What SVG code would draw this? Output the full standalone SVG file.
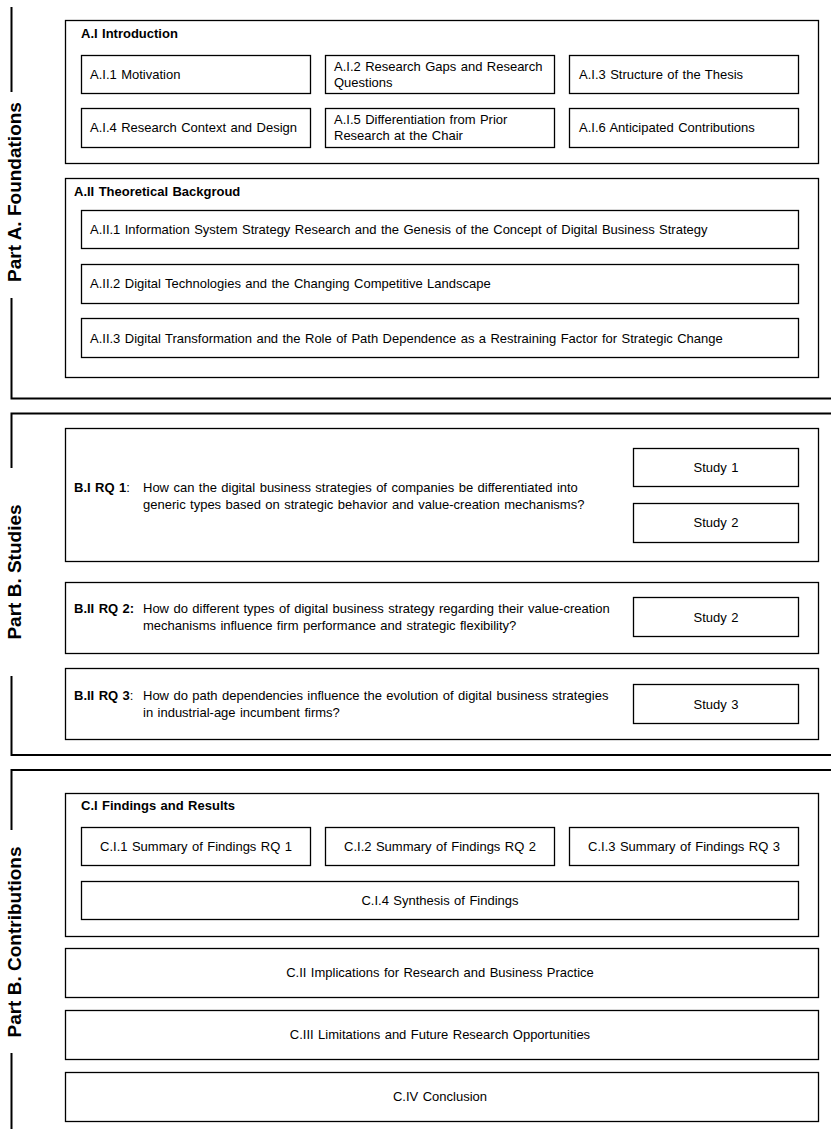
<svg xmlns="http://www.w3.org/2000/svg" width="831" height="1129" viewBox="0 0 831 1129">
<style>
  .bg{fill:#fff}
  .box{fill:#fff;stroke:#000;stroke-width:1.3}
  .brk{fill:none;stroke:#000;stroke-width:2}
  text{font-family:"Liberation Sans",Arial,sans-serif;font-size:13px;fill:#000;word-spacing:0.8px}
  .b{font-weight:bold}
  .c{text-anchor:middle}
  .part{font-size:19px;font-weight:bold;text-anchor:middle;word-spacing:0}
</style>
<rect class="bg" x="0" y="0" width="831" height="1129"/>
<g id="brackets">
  <path class="brk" d="M11.5,7 V92 M11.5,298 V398.5 H831"/>
  <path class="brk" d="M831,413.5 H11.5 V468 M11.5,676 V755 H831"/>
  <path class="brk" d="M831,770 H11.5 V830 M11.5,1053 V1129"/>
</g>
<g id="partA"><text class="part" transform="translate(21,192) rotate(-90)">Part A. Foundations</text></g>
<g id="partB"><text class="part" transform="translate(21,572) rotate(-90)">Part B. Studies</text></g>
<g id="partC"><text class="part" transform="translate(21,942) rotate(-90)">Part B. Contributions</text></g>

<g id="AI">
  <rect class="box" x="65.5" y="20.5" width="753" height="143"/>
  <text class="b" x="81" y="38">A.I Introduction</text>
</g>
<g id="AI1"><rect class="box" x="81.5" y="55.5" width="229" height="38"/><text x="90" y="79">A.I.1 Motivation</text></g>
<g id="AI2"><rect class="box" x="325.5" y="55.5" width="229" height="38"/><text x="334" y="71">A.I.2 Research Gaps and Research</text><text x="334" y="87">Questions</text></g>
<g id="AI3"><rect class="box" x="569.5" y="55.5" width="229" height="38"/><text x="579" y="79">A.I.3 Structure of the Thesis</text></g>
<g id="AI4"><rect class="box" x="81.5" y="108.5" width="229" height="39"/><text x="90" y="132">A.I.4 Research Context and Design</text></g>
<g id="AI5"><rect class="box" x="325.5" y="108.5" width="229" height="39"/><text x="334" y="124">A.I.5 Differentiation from Prior</text><text x="334" y="140">Research at the Chair</text></g>
<g id="AI6"><rect class="box" x="569.5" y="108.5" width="229" height="39"/><text x="579" y="132">A.I.6 Anticipated Contributions</text></g>

<g id="AII">
  <rect class="box" x="65.5" y="178.5" width="753" height="199"/>
  <text class="b" x="74" y="196">A.II Theoretical Backgroud</text>
</g>
<g id="AII1"><rect class="box" x="81.5" y="210.5" width="717" height="38"/><text x="90" y="234">A.II.1 Information System Strategy Research and the Genesis of the Concept of Digital Business Strategy</text></g>
<g id="AII2"><rect class="box" x="81.5" y="264.5" width="717" height="39"/><text x="90" y="288">A.II.2 Digital Technologies and the Changing Competitive Landscape</text></g>
<g id="AII3"><rect class="box" x="81.5" y="318.5" width="717" height="39"/><text x="90" y="343">A.II.3 Digital Transformation and the Role of Path Dependence as a Restraining Factor for Strategic Change</text></g>

<g id="BI">
  <rect class="box" x="65.5" y="428.5" width="753" height="133"/>
  <text x="74" y="492"><tspan class="b">B.I RQ 1</tspan>:</text>
  <text x="143" y="492">How can the digital business strategies of companies be differentiated into</text>
  <text x="143" y="509">generic types based on strategic behavior and value-creation mechanisms?</text>
</g>
<g id="BI_s1"><rect class="box" x="633.5" y="448.5" width="165" height="38"/><text class="c" x="716" y="472">Study 1</text></g>
<g id="BI_s2"><rect class="box" x="633.5" y="503.5" width="165" height="39"/><text class="c" x="716" y="527">Study 2</text></g>

<g id="BII">
  <rect class="box" x="65.5" y="582.5" width="753" height="71"/>
  <text x="74" y="613"><tspan class="b">B.II RQ 2:</tspan></text>
  <text x="143" y="613">How do different types of digital business strategy regarding their value-creation</text>
  <text x="143" y="630">mechanisms influence firm performance and strategic flexibility?</text>
</g>
<g id="BII_s2"><rect class="box" x="633.5" y="597.5" width="165" height="39"/><text class="c" x="716" y="622">Study 2</text></g>

<g id="BIII">
  <rect class="box" x="65.5" y="668.5" width="753" height="71"/>
  <text x="74" y="700"><tspan class="b">B.II RQ 3</tspan>:</text>
  <text x="143" y="700">How do path dependencies influence the evolution of digital business strategies</text>
  <text x="143" y="717">in industrial-age incumbent firms?</text>
</g>
<g id="BIII_s3"><rect class="box" x="633.5" y="684.5" width="165" height="39"/><text class="c" x="716" y="709">Study 3</text></g>

<g id="CI">
  <rect class="box" x="65.5" y="793.5" width="753" height="143"/>
  <text class="b" x="81" y="810">C.I Findings and Results</text>
</g>
<g id="CI1"><rect class="box" x="81.5" y="827.5" width="229" height="38"/><text class="c" x="196" y="851">C.I.1 Summary of Findings RQ 1</text></g>
<g id="CI2"><rect class="box" x="325.5" y="827.5" width="229" height="38"/><text class="c" x="440" y="851">C.I.2 Summary of Findings RQ 2</text></g>
<g id="CI3"><rect class="box" x="569.5" y="827.5" width="229" height="38"/><text class="c" x="684" y="851">C.I.3 Summary of Findings RQ 3</text></g>
<g id="CI4"><rect class="box" x="81.5" y="881.5" width="717" height="38"/><text class="c" x="440" y="905">C.I.4 Synthesis of Findings</text></g>

<g id="CII"><rect class="box" x="65.5" y="948.5" width="753" height="49"/><text class="c" x="440" y="977">C.II Implications for Research and Business Practice</text></g>
<g id="CIII"><rect class="box" x="65.5" y="1010.5" width="753" height="49"/><text class="c" x="440" y="1039">C.III Limitations and Future Research Opportunities</text></g>
<g id="CIV"><rect class="box" x="65.5" y="1072.5" width="753" height="49"/><text class="c" x="440" y="1101">C.IV Conclusion</text></g>
</svg>
